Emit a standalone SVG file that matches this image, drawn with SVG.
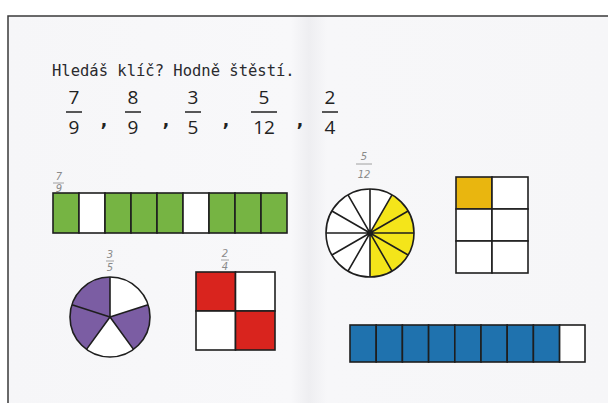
<svg xmlns="http://www.w3.org/2000/svg" width="608" height="403" viewBox="0 0 608 403">
<defs>
<linearGradient id="page" x1="0" y1="0" x2="1" y2="0">
<stop offset="0" stop-color="#f6f6f8"/>
<stop offset="0.47" stop-color="#f8f8fa"/>
<stop offset="0.5" stop-color="#eeeef1"/>
<stop offset="0.53" stop-color="#f7f7f9"/>
<stop offset="1" stop-color="#f6f6f8"/>
</linearGradient>
<style>
.ttl{font-family:"DejaVu Sans Mono","Liberation Mono",monospace;font-size:15.5px;fill:#2a2a2e}
.fr{font-family:"Open Sans","Liberation Sans",sans-serif;font-size:19px;fill:#222;text-anchor:middle}
.cm{font-family:"DejaVu Sans","Liberation Sans",sans-serif;font-size:17px;font-weight:bold;fill:#222;text-anchor:middle}
.hw{font-family:"DejaVu Sans","Liberation Sans",sans-serif;font-size:10px;fill:#8a8a8a;text-anchor:middle;font-style:italic}
.ln{stroke:#1e1e1e;stroke-width:1.6;fill:none}
.cell{stroke:#1e1e1e;stroke-width:1.6}
.g{fill:#76b443}.w{fill:#ffffff}.b{fill:#1f72ae}.r{fill:#d9241e}.p{fill:#7b5da3}.y{fill:#f4e51a}.o{fill:#e9b60f}
</style>
</defs>
<rect x="0" y="0" width="608" height="403" fill="#ffffff"/>
<rect x="8" y="16" width="602" height="390" fill="url(#page)" stroke="#3a3a3a" stroke-width="1.5"/>

<g id="title">
<text class="ttl" x="52" y="76">Hledáš klíč? Hodně štěstí.</text>
</g>

<g id="fractions">
<text class="fr" x="74" y="104">7</text><line x1="66" y1="112" x2="82" y2="112" stroke="#222" stroke-width="1.5"/><text class="fr" x="74" y="134">9</text>
<text class="cm" x="104" y="126">,</text>
<text class="fr" x="133" y="104">8</text><line x1="125" y1="112" x2="141" y2="112" stroke="#222" stroke-width="1.5"/><text class="fr" x="133" y="134">9</text>
<text class="cm" x="166" y="126">,</text>
<text class="fr" x="193" y="104">3</text><line x1="185" y1="112" x2="201" y2="112" stroke="#222" stroke-width="1.5"/><text class="fr" x="193" y="134">5</text>
<text class="cm" x="226" y="126">,</text>
<text class="fr" x="264" y="104">5</text><line x1="251" y1="112" x2="277" y2="112" stroke="#222" stroke-width="1.5"/><text class="fr" x="264" y="134">12</text>
<text class="cm" x="300" y="126">,</text>
<text class="fr" x="330" y="104">2</text><line x1="322" y1="112" x2="338" y2="112" stroke="#222" stroke-width="1.5"/><text class="fr" x="330" y="134">4</text>
</g>

<g id="green-bar">
<text class="hw" x="59" y="180">7</text><line x1="53" y1="183" x2="64" y2="183" stroke="#8a8a8a" stroke-width="0.8"/><text class="hw" x="59" y="192" font-size="8">9</text>
<rect class="cell g" x="53" y="193" width="26" height="40"/>
<rect class="cell w" x="79" y="193" width="26" height="40"/>
<rect class="cell g" x="105" y="193" width="26" height="40"/>
<rect class="cell g" x="131" y="193" width="26" height="40"/>
<rect class="cell g" x="157" y="193" width="26" height="40"/>
<rect class="cell w" x="183" y="193" width="26" height="40"/>
<rect class="cell g" x="209" y="193" width="26" height="40"/>
<rect class="cell g" x="235" y="193" width="26" height="40"/>
<rect class="cell g" x="261" y="193" width="26" height="40"/>
</g>

<g id="purple-circle">
<text class="hw" x="110" y="258" font-size="8">3</text><line x1="106" y1="261" x2="114" y2="261" stroke="#8a8a8a" stroke-width="0.8"/><text class="hw" x="110" y="271" font-size="8">5</text>
<circle cx="110" cy="317" r="40" fill="#fff"/>
<path class="p" d="M110,317 L148.04,304.64 A40,40 0 0 1 133.51,349.36 Z"/>
<path class="p" d="M110,317 L86.49,349.36 A40,40 0 0 1 71.96,304.64 Z"/>
<path class="p" d="M110,317 L71.96,304.64 A40,40 0 0 1 110,277 Z"/>
<circle class="ln" cx="110" cy="317" r="40"/>
<path class="ln" d="M110,277 L110,317 M148.04,304.64 L110,317 M133.51,349.36 L110,317 M86.49,349.36 L110,317 M71.96,304.64 L110,317"/>
</g>

<g id="red-square">
<text class="hw" x="225" y="257" font-size="9">2</text><line x1="221" y1="260" x2="229" y2="260" stroke="#8a8a8a" stroke-width="0.8"/><text class="hw" x="225" y="270" font-size="9">4</text>
<rect class="cell r" x="196" y="272" width="39.5" height="39"/>
<rect class="cell w" x="235.5" y="272" width="39.5" height="39"/>
<rect class="cell w" x="196" y="311" width="39.5" height="39"/>
<rect class="cell r" x="235.5" y="311" width="39.5" height="39"/>
</g>

<g id="yellow-circle">
<text class="hw" x="364" y="160" font-size="11">5</text><line x1="356" y1="164" x2="372" y2="164" stroke="#8a8a8a" stroke-width="0.8"/><text class="hw" x="364" y="178" font-size="11">12</text>
<circle cx="370" cy="233" r="44" fill="#fff"/>
<path class="y" d="M370,233 L392,194.9 A44,44 0 0 1 370,277 Z"/>
<circle class="ln" cx="370" cy="233" r="44"/>
<path class="ln" d="M370,189 L370,277 M392,194.9 L348,271.1 M408.1,211 L331.9,255 M414,233 L326,233 M408.1,255 L331.9,211 M392,271.1 L348,194.9"/>
</g>

<g id="gold-grid">
<rect class="cell o" x="456" y="177" width="36" height="32"/>
<rect class="cell w" x="492" y="177" width="36" height="32"/>
<rect class="cell w" x="456" y="209" width="36" height="32"/>
<rect class="cell w" x="492" y="209" width="36" height="32"/>
<rect class="cell w" x="456" y="241" width="36" height="32"/>
<rect class="cell w" x="492" y="241" width="36" height="32"/>
</g>

<g id="blue-bar">
<rect class="cell b" x="350" y="325" width="26.2" height="37"/>
<rect class="cell b" x="376.2" y="325" width="26.2" height="37"/>
<rect class="cell b" x="402.4" y="325" width="26.2" height="37"/>
<rect class="cell b" x="428.6" y="325" width="26.2" height="37"/>
<rect class="cell b" x="454.8" y="325" width="26.2" height="37"/>
<rect class="cell b" x="481" y="325" width="26.2" height="37"/>
<rect class="cell b" x="507.2" y="325" width="26.2" height="37"/>
<rect class="cell b" x="533.4" y="325" width="26.2" height="37"/>
<rect class="cell w" x="559.6" y="325" width="25.4" height="37"/>
</g>
</svg>
